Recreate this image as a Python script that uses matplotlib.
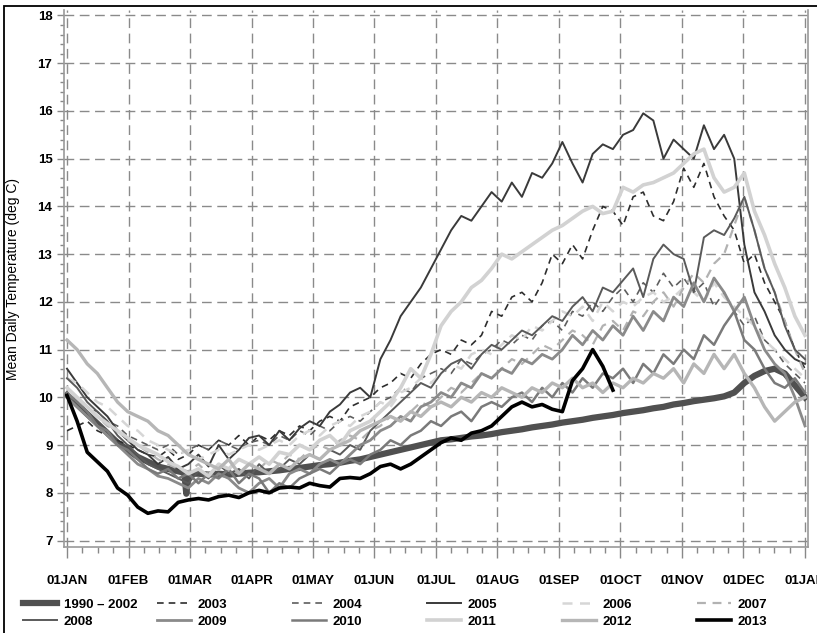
import matplotlib
matplotlib.use("Agg")
import matplotlib.pyplot as plt
from matplotlib.patches import Rectangle
from matplotlib.ticker import MultipleLocator, FixedLocator

# ---------------- data ----------------
month_labels = ["01JAN", "01FEB", "01MAR", "01APR", "01MAY", "01JUN", "01JUL",
                "01AUG", "01SEP", "01OCT", "01NOV", "01DEC", "01JAN"]
days5 = list(range(0, 366, 5))

clim_days = [0, 5, 10, 15, 20, 25, 30, 35, 40, 45, 50, 55, 58, 59, 60, 65, 70, 75,
             80, 85, 90, 95, 100, 105, 110, 115, 120, 125, 130, 135, 140, 145, 150,
             155, 160, 165, 170, 175, 180, 185, 190, 195, 200, 205, 210, 215, 220,
             225, 230, 235, 240, 245, 250, 255, 260, 265, 270, 275, 280, 285, 290,
             295, 300, 305, 310, 315, 320, 325, 330, 335, 340, 345, 350, 355, 360, 365]
clim_vals = [10.05, 9.85, 9.65, 9.45, 9.25, 9.05, 8.9, 8.75, 8.65, 8.55, 8.5, 8.45,
             8.42, 7.98, 8.4, 8.4, 8.38, 8.4, 8.38, 8.4, 8.42, 8.43, 8.45, 8.47, 8.5,
             8.52, 8.55, 8.58, 8.6, 8.63, 8.67, 8.7, 8.75, 8.8, 8.85, 8.9, 8.95, 9.0,
             9.05, 9.1, 9.12, 9.15, 9.18, 9.2, 9.23, 9.27, 9.3, 9.33, 9.37, 9.4, 9.43,
             9.47, 9.5, 9.53, 9.57, 9.6, 9.63, 9.67, 9.7, 9.73, 9.77, 9.8, 9.85, 9.88,
             9.92, 9.95, 9.98, 10.02, 10.1, 10.3, 10.45, 10.55, 10.6, 10.5, 10.25, 10.0]

y2003 = [9.3, 9.4, 9.5, 9.3, 9.2, 9.1, 9.0,
         8.9, 8.8, 8.75, 8.9, 8.7, 8.8,
         9.0, 8.9, 9.1, 9.0, 9.2, 9.0,
         9.2, 9.1, 9.3, 9.2, 9.4, 9.3,
         9.5, 9.6, 9.5, 9.8, 9.9, 10.0,
         10.2, 10.3, 10.5, 10.4, 10.7, 10.9,
         11.0, 10.9, 11.2, 11.1, 11.3, 11.8,
         11.7, 12.1, 12.2, 12.0, 12.4, 13.0,
         12.8, 13.2, 12.9, 13.5, 14.0, 13.9,
         13.6, 14.2, 14.3, 13.8, 13.7, 14.1,
         14.8, 14.4, 14.9, 14.2, 13.8, 13.5,
         12.8, 13.0, 12.4, 12.0, 11.6, 11.0, 10.6]
y2004 = [10.2, 10.0, 9.8, 9.7, 9.5, 9.4, 9.2,
         9.1, 9.0, 8.9, 9.0, 8.8, 8.9,
         9.0, 8.9, 9.1, 9.0, 8.9, 9.05,
         9.1, 9.0, 9.2, 9.1, 9.3, 9.2,
         9.4, 9.3, 9.5, 9.6, 9.5, 9.7,
         9.9, 10.0, 10.2, 10.1, 10.4, 10.5,
         10.6, 10.5, 10.8, 10.7, 10.9, 11.0,
         11.2, 11.1, 11.3, 11.2, 11.5, 11.6,
         11.4, 11.8, 11.7, 12.0, 11.8, 12.1,
         12.3, 12.0, 12.4, 12.2, 12.6, 12.3,
         12.5, 12.2, 12.4, 11.9, 12.2, 11.8,
         11.5, 11.7, 11.2, 11.0, 10.7, 10.5, 10.3]
y2005 = [10.6, 10.3, 10.0, 9.8, 9.6, 9.3, 9.1,
         8.9, 8.8, 8.6, 8.75, 8.5, 8.6,
         8.8, 8.55, 9.0, 8.7, 8.9, 9.15,
         9.2, 9.0, 9.3, 9.1, 9.35, 9.5,
         9.4, 9.7, 9.85, 10.1, 10.2, 10.0,
         10.8, 11.2, 11.7, 12.0, 12.3, 12.7,
         13.1, 13.5, 13.8, 13.7, 14.0, 14.3,
         14.1, 14.5, 14.2, 14.7, 14.6, 14.9,
         15.35, 14.9, 14.5, 15.1, 15.3, 15.2,
         15.5, 15.6, 15.95, 15.8, 15.0, 15.4,
         15.2, 15.0, 15.7, 15.2, 15.5, 15.0,
         13.2, 12.2, 11.8, 11.3, 11.0, 10.8, 10.7]
y2006 = [10.4, 10.3, 10.1, 9.9, 9.8, 9.6, 9.4,
         9.3, 9.1, 9.0, 8.9, 8.8, 8.9,
         8.7, 8.8, 8.9, 8.8, 8.9, 9.0,
         8.9, 9.0, 9.1, 9.0, 9.2, 9.3,
         9.2, 9.4, 9.5, 9.4, 9.6, 9.7,
         9.9, 9.8, 10.1, 10.2, 10.4, 10.3,
         10.5, 10.7, 10.6, 10.9, 11.0, 10.9,
         11.1, 11.3, 11.2, 11.5, 11.4, 11.6,
         11.8, 11.7, 11.9, 11.6, 12.0, 11.8,
         12.0, 11.9, 12.1, 12.2, 12.0, 12.1,
         12.3, 12.2, 12.0, 12.4, 12.1, 11.9,
         11.7, 11.5, 11.2, 11.0, 10.8, 10.6, 10.4]
y2007 = [10.1, 9.9, 9.8, 9.6, 9.4, 9.3, 9.1,
         9.0, 8.85, 8.7, 8.6, 8.5, 8.45,
         8.6, 8.4, 8.55, 8.5, 8.4, 8.6,
         8.5, 8.7, 8.6, 8.8, 8.7, 8.9,
         9.0, 8.9, 9.1, 9.2, 9.1, 9.3,
         9.4, 9.6, 9.5, 9.7, 9.9, 9.8,
         10.0, 10.2, 10.1, 10.3, 10.5, 10.4,
         10.6, 10.8, 10.7, 10.9, 11.1, 11.0,
         11.2, 11.4, 11.3, 11.1, 11.5, 11.6,
         11.4, 11.8, 11.7, 12.0, 12.2, 11.9,
         12.3, 12.6, 12.4, 12.8, 13.0, 13.6,
         14.2, 13.5, 12.7, 12.2, 11.6, 11.0, 10.5]
y2008 = [10.4, 10.2, 9.9, 9.7, 9.5, 9.2, 9.0,
         8.8, 8.6, 8.5, 8.4, 8.3, 8.2,
         8.45, 8.3, 8.6, 8.4, 8.5, 8.3,
         8.6, 8.4, 8.5, 8.7, 8.6, 8.8,
         8.7, 8.9, 8.8, 9.0, 8.9, 9.3,
         9.5, 9.7, 9.9, 10.1, 10.3, 10.2,
         10.5, 10.7, 10.8, 10.6, 10.9, 11.1,
         11.0, 11.2, 11.4, 11.3, 11.5, 11.7,
         11.6, 11.9, 12.1, 11.8, 12.3, 12.2,
         12.45, 12.7, 12.1, 12.9, 13.2, 13.0,
         12.9, 12.2, 13.35, 13.5, 13.4, 13.75,
         14.2, 13.5, 12.7, 12.2, 11.5, 11.0, 10.8]
y2009 = [10.0, 9.8, 9.6, 9.4, 9.2, 9.0, 8.8,
         8.6, 8.5, 8.35, 8.3, 8.2, 8.1,
         8.3, 8.2, 8.4, 8.3, 8.1, 8.0,
         8.2, 8.3, 8.1, 8.4, 8.5, 8.4,
         8.6, 8.7, 8.6, 8.8, 9.0, 9.1,
         9.3, 9.4, 9.6, 9.5, 9.8, 9.9,
         10.1, 10.0, 10.3, 10.2, 10.5, 10.4,
         10.6, 10.5, 10.8, 10.7, 10.9, 10.8,
         11.0, 11.3, 11.1, 11.4, 11.2, 11.5,
         11.3, 11.7, 11.4, 11.8, 11.6, 12.1,
         11.9, 12.4, 12.0, 12.5, 12.2, 11.8,
         12.1, 11.5, 11.0, 10.7, 10.5, 10.0, 9.4]
y2010 = [10.1, 9.9, 9.7, 9.4, 9.3, 9.0, 8.9,
         8.7, 8.5, 8.4, 8.5, 8.3, 8.4,
         8.2, 8.4, 8.3, 8.5, 8.2, 8.4,
         8.3, 8.0, 8.2, 8.1, 8.3, 8.4,
         8.5, 8.4, 8.6, 8.7, 8.6, 8.8,
         8.9, 9.1, 9.0, 9.2, 9.3, 9.5,
         9.4, 9.6, 9.7, 9.5, 9.8, 9.9,
         9.8, 10.0, 10.1, 9.9, 10.2, 10.0,
         10.3, 10.1, 10.4, 10.2, 10.5, 10.4,
         10.6, 10.3, 10.7, 10.5, 10.9, 10.7,
         11.0, 10.8, 11.3, 11.1, 11.5, 11.8,
         11.2, 11.0, 10.6, 10.3, 10.2, 10.4, 10.1]
y2011 = [10.2, 10.0, 9.8, 9.6, 9.45, 9.3, 9.15,
         9.0, 8.9, 8.8, 8.65, 8.55, 8.4,
         8.5, 8.35, 8.6, 8.5, 8.7, 8.6,
         8.75, 8.6, 8.85, 8.8, 9.0, 8.9,
         9.1, 9.2, 9.0, 9.3, 9.4, 9.5,
         9.7, 9.9, 10.2, 10.6, 10.4, 10.9,
         11.5, 11.8, 12.0, 12.3, 12.45, 12.7,
         13.0, 12.9, 13.05, 13.2, 13.35, 13.5,
         13.6, 13.75, 13.9, 14.0, 13.85, 13.9,
         14.4, 14.3, 14.45, 14.5, 14.6, 14.7,
         14.9, 15.1, 15.2, 14.6, 14.3, 14.4,
         14.7, 13.9, 13.4, 12.8, 12.3, 11.7, 11.3]
y2012 = [11.2, 11.0, 10.7, 10.5, 10.2, 9.9, 9.7,
         9.6, 9.5, 9.3, 9.2, 9.0, 8.8,
         8.7, 8.6, 8.5, 8.7, 8.4, 8.6,
         8.5, 8.4, 8.6, 8.5, 8.7, 8.8,
         8.7, 8.9, 9.0, 9.1, 9.3, 9.4,
         9.5, 9.6, 9.5, 9.7, 9.6, 9.8,
         9.9, 9.8, 10.0, 9.9, 10.1, 10.0,
         10.2, 10.1, 10.0, 10.2, 10.1, 10.3,
         10.2, 10.4, 10.2, 10.3, 10.1, 10.3,
         10.2, 10.4, 10.3, 10.5, 10.4, 10.6,
         10.3, 10.7, 10.5, 10.9, 10.6, 10.9,
         10.5, 10.2, 9.8, 9.5, 9.7, 9.9, 10.0]
days2013 = list(range(0, 271, 5))
y2013 = [10.04, 9.5, 8.85, 8.65, 8.45, 8.1, 7.95, 7.7, 7.57, 7.62, 7.6, 7.8,
         7.85, 7.88, 7.85, 7.92, 7.95, 7.9, 8.0, 8.05, 8.0, 8.1, 8.12, 8.1,
         8.2, 8.15, 8.12, 8.3, 8.32, 8.3, 8.4, 8.55, 8.6, 8.5, 8.6, 8.75,
         8.9, 9.05, 9.15, 9.1, 9.25, 9.3, 9.4, 9.6, 9.8, 9.9, 9.8, 9.85,
         9.75, 9.7, 10.35, 10.6, 11.0, 10.65, 10.15]

series = [
    ("1990 \u2013 2002", clim_days, clim_vals),
    ("2003", days5, y2003), ("2004", days5, y2004), ("2005", days5, y2005),
    ("2006", days5, y2006), ("2007", days5, y2007), ("2008", days5, y2008),
    ("2009", days5, y2009), ("2010", days5, y2010), ("2011", days5, y2011),
    ("2012", days5, y2012), ("2013", days2013, y2013),
]

styles = {
    "1990 \u2013 2002": dict(color="#505050", lw=4.5, ls="-"),
    "2003": dict(color="#2e2e2e", lw=1.2, ls=(0, (4, 3))),
    "2004": dict(color="#5e5e5e", lw=1.2, ls=(0, (4, 3))),
    "2005": dict(color="#3a3a3a", lw=1.4, ls="-"),
    "2006": dict(color="#d6d6d6", lw=1.8, ls=(0, (4, 3))),
    "2007": dict(color="#b2b2b2", lw=1.6, ls=(0, (4, 3))),
    "2008": dict(color="#5a5a5a", lw=1.4, ls="-"),
    "2009": dict(color="#8a8a8a", lw=2.0, ls="-"),
    "2010": dict(color="#7a7a7a", lw=1.8, ls="-"),
    "2011": dict(color="#d2d2d2", lw=2.6, ls="-"),
    "2012": dict(color="#b6b6b6", lw=2.4, ls="-"),
    "2013": dict(color="#000000", lw=2.6, ls="-"),
}

tick_font = ["Liberation Sans", "DejaVu Sans"]

# ---------------- figure ----------------
W, H = 817, 633
fig = plt.figure(figsize=(W / 100, H / 100), dpi=100)
ax = fig.add_axes([63.5 / W, 1 - 547 / H, (808 - 63.5) / W, (547 - 10) / H])

handles = {}
for name, d, v in series:
    xm = [di * 12.0 / 365.0 for di in d]
    st = styles[name]
    ln, = ax.plot(xm, v, color=st["color"], lw=st["lw"], linestyle=st["ls"],
                  solid_joinstyle="round", label=name)
    handles[name] = ln

ax.set_xlim(-0.057, 12.049)
ax.set_ylim(6.864, 18.115)
ax.xaxis.set_major_locator(FixedLocator(list(range(13))))
ax.set_xticklabels(month_labels)
ax.xaxis.set_minor_locator(MultipleLocator(0.25))
ax.yaxis.set_major_locator(MultipleLocator(1))
ax.yaxis.set_minor_locator(MultipleLocator(0.2))

ax.grid(True, which="major", color="#8a8a8a", lw=1.0, linestyle=(0, (7, 4)))
ax.set_axisbelow(True)

for s in ["left", "bottom", "right"]:
    ax.spines[s].set_color("#9a9a9a")
    ax.spines[s].set_linewidth(1.2)
ax.spines["top"].set_visible(False)

ax.tick_params(axis="x", which="major", direction="out", length=8, width=1,
               color="#888888", pad=12)
ax.tick_params(axis="x", which="minor", direction="out", length=4, width=1,
               color="#888888")
ax.tick_params(axis="y", which="major", direction="out", length=5, width=1,
               color="#888888", pad=3)
ax.tick_params(axis="y", which="minor", direction="out", length=3, width=1,
               color="#888888")
for lab in ax.get_xticklabels() + ax.get_yticklabels():
    lab.set_family(tick_font)
    lab.set_fontweight("bold")
    lab.set_fontsize(9.5)

ax.set_ylabel("Mean Daily Temperature (deg C)", family=["Liberation Sans", "DejaVu Sans"],
              fontsize=10)
ax.yaxis.set_label_coords((20 - 63.5) / (808 - 63.5), 0.5)

# legend: 6 columns x 2 rows
order = ["1990 \u2013 2002", "2003", "2004", "2005", "2006", "2007",
         "2008", "2009", "2010", "2011", "2012", "2013"]
col_x = [23, 157, 292, 427, 562, 697]
for c in range(6):
    hs = [handles[order[c]], handles[order[c + 6]]]
    fig.legend(handles=hs, labels=[order[c], order[c + 6]], loc="center left",
               bbox_to_anchor=(col_x[c] / W, 1 - 613 / H), frameon=False,
               borderpad=0, borderaxespad=0, handlelength=2.6, handletextpad=0.5,
               labelspacing=0.35,
               prop=dict(family=tick_font, weight="bold", size=9.5))

# outer frame of the graph
fig.add_artist(Rectangle((4 / W, -0.05), 1.2, (H - 5.5) / H + 0.05,
                         transform=fig.transFigure, fill=False, ec="black", lw=1.3,
                         clip_on=False))

fig.savefig("out.png", dpi=100)
